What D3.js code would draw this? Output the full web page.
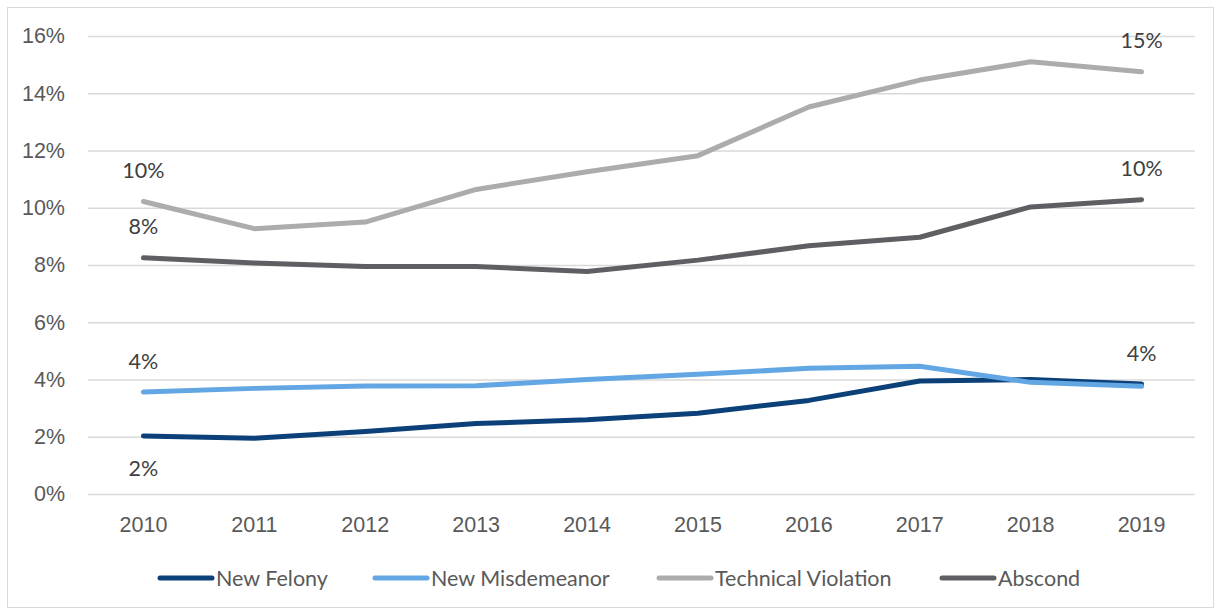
<!DOCTYPE html>
<html>
<head>
<meta charset="utf-8">
<script src="https://cdn.jsdelivr.net/npm/d3@7"></script>
<style>
  body { margin: 0; background: #fff; }
  svg { display: block; font-family: Lato, "Open Sans", sans-serif; }
</style>
</head>
<body>
<svg id="chart" width="1217" height="611"></svg>
<script>
// Years on the x axis
const years = ['2010', '2011', '2012', '2013', '2014', '2015', '2016', '2017', '2018', '2019'];
// Rates in percent
const newFelony = [2.03, 1.95, 2.18, 2.46, 2.59, 2.82, 3.27, 3.95, 4.0, 3.84];
const newMisdemeanor = [3.56, 3.69, 3.77, 3.78, 4.0, 4.18, 4.39, 4.46, 3.9, 3.76];
const technicalViolation = [10.22, 9.27, 9.5, 10.64, 11.26, 11.82, 13.52, 14.46, 15.1, 14.75];
const abscond = [8.25, 8.07, 7.95, 7.95, 7.77, 8.17, 8.67, 8.97, 10.03, 10.28];
const yTicks = [0, 2, 4, 6, 8, 10, 12, 14, 16];

const seriesNames = ['New Felony', 'New Misdemeanor', 'Technical Violation', 'Abscond'];
const seriesValues = [newFelony, newMisdemeanor, technicalViolation, abscond];
const colors = ['#0b4178', '#62a7e3', '#aeabab', '#5f5e62'];
// which points get a value label, and whether it sits above or below
const labelPoints = [
  [{ i: 0, pos: 'below' }, { i: 9, pos: 'above' }],
  [{ i: 0, pos: 'above' }],
  [{ i: 0, pos: 'above' }, { i: 9, pos: 'above' }],
  [{ i: 0, pos: 'above' }, { i: 9, pos: 'above' }]
];

const svg = d3.select('#chart');
const margin = { left: 88, right: 1197, top: 36, bottom: 494 };
const fontSize = '21.5px';

// outer frame
svg.append('rect')
  .attr('x', 7.5).attr('y', 7.5)
  .attr('width', 1206).attr('height', 600)
  .attr('fill', 'none')
  .attr('stroke', '#d9d9d9')
  .attr('stroke-width', 1);

const x = d3.scaleBand().domain(years).range([margin.left, margin.right]);
const y = d3.scaleLinear().domain([0, 16]).range([margin.bottom, margin.top]);

// gridlines + y labels
const yAxis = svg.append('g')
  .attr('transform', `translate(${margin.left},0)`)
  .call(d3.axisLeft(y).tickValues(yTicks).tickSize(-(margin.right - margin.left - 2)).tickFormat(d => d + '%').tickPadding(23));
yAxis.select('.domain').remove();
yAxis.selectAll('line').attr('stroke', '#d9d9d9').attr('stroke-width', 1.5);
yAxis.selectAll('text').attr('fill', '#595959').style('font-size', fontSize);

// x labels
const xAxis = svg.append('g')
  .attr('transform', `translate(0,${margin.bottom})`)
  .call(d3.axisBottom(x).tickSize(0).tickPadding(23));
xAxis.select('.domain').remove();
xAxis.selectAll('text').attr('fill', '#595959').style('font-size', fontSize);

const line = d3.line()
  .x((d, i) => x(years[i]) + x.bandwidth() / 2)
  .y(d => y(d));

// draw order like the original: felony, misdemeanor, technical, abscond
seriesValues.forEach((vals, s) => {
  svg.append('path')
    .datum(vals)
    .attr('d', line)
    .attr('fill', 'none')
    .attr('stroke', colors[s])
    .attr('stroke-width', 5)
    .attr('stroke-linecap', 'round')
    .attr('stroke-linejoin', 'round');
});

// value labels
seriesValues.forEach((vals, s) => {
  labelPoints[s].forEach(p => {
    svg.append('text')
      .attr('x', x(years[p.i]) + x.bandwidth() / 2)
      .attr('y', y(vals[p.i]) + (p.pos === 'above' ? -31 : 33))
      .attr('dy', '0.35em')
      .attr('text-anchor', 'middle')
      .attr('fill', '#404040')
      .style('font-size', fontSize)
      .text(Math.round(vals[p.i]) + '%');
  });
});

// legend
const legendX = [158, 373, 657, 940];
const legend = svg.append('g').attr('transform', 'translate(0,578)');
seriesNames.forEach((name, s) => {
  const g = legend.append('g').attr('transform', `translate(${legendX[s]},0)`);
  g.append('line')
    .attr('x1', 2).attr('x2', 54)
    .attr('stroke', colors[s])
    .attr('stroke-width', 5)
    .attr('stroke-linecap', 'round');
  g.append('text')
    .attr('x', 58)
    .attr('dy', '0.35em')
    .attr('fill', '#595959')
    .style('font-size', fontSize)
    .text(name);
});
</script>
</body>
</html>
